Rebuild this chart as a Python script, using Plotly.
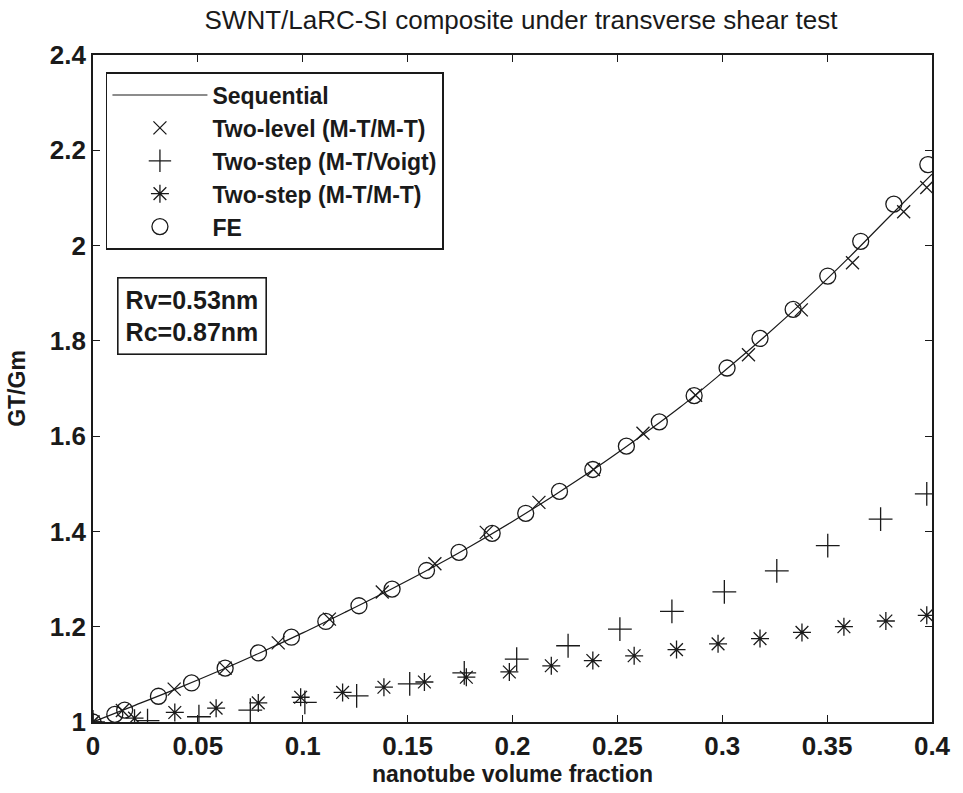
import plotly.graph_objects as go

# ---------------- data ----------------
seq_x = [0.0, 0.02, 0.04, 0.06, 0.08, 0.10, 0.12, 0.14, 0.16, 0.18, 0.20,
         0.22, 0.24, 0.26, 0.28, 0.30, 0.32, 0.34, 0.36, 0.38, 0.40]
seq_y = [1.000, 1.035, 1.070, 1.107, 1.146, 1.187, 1.230, 1.274, 1.320, 1.369, 1.421,
         1.476, 1.534, 1.596, 1.661, 1.733, 1.808, 1.888, 1.973, 2.062, 2.150]

two_level_x = [0.0, 0.014, 0.0387, 0.063, 0.0883, 0.1127, 0.1379, 0.163, 0.1875,
               0.2126, 0.2386, 0.2622, 0.2873, 0.3125, 0.3377, 0.3621, 0.3865, 0.3975]
two_level_y = [1.000, 1.024, 1.069, 1.113, 1.166, 1.216, 1.273, 1.332, 1.398,
               1.461, 1.530, 1.606, 1.686, 1.771, 1.865, 1.964, 2.071, 2.122]

voigt_x = [0.0, 0.026, 0.0505, 0.075, 0.101, 0.1257, 0.151, 0.177, 0.202,
           0.2265, 0.2512, 0.276, 0.301, 0.326, 0.3503, 0.3755, 0.3975]
voigt_y = [1.000, 1.003, 1.011, 1.025, 1.041, 1.055, 1.080, 1.103, 1.132,
           1.160, 1.195, 1.232, 1.273, 1.317, 1.370, 1.426, 1.479]

mtmt_x = [0.0, 0.0198, 0.039, 0.0587, 0.0788, 0.099, 0.119, 0.1387, 0.158, 0.178,
          0.1985, 0.2185, 0.2383, 0.258, 0.2782, 0.298, 0.318, 0.338, 0.358, 0.378, 0.3975]
mtmt_y = [1.000, 1.008, 1.020, 1.029, 1.040, 1.052, 1.062, 1.073, 1.084, 1.094,
          1.105, 1.118, 1.129, 1.139, 1.152, 1.164, 1.175, 1.188, 1.200, 1.212, 1.224]

fe_x = [0.0, 0.0104, 0.0151, 0.0312, 0.047, 0.063, 0.0789, 0.0946, 0.111, 0.1268,
        0.1426, 0.159, 0.1745, 0.1903, 0.2063, 0.2224, 0.2383, 0.2543, 0.270, 0.2866,
        0.3023, 0.318, 0.3338, 0.3503, 0.366, 0.3818, 0.398]
fe_y = [1.000, 1.016, 1.025, 1.054, 1.082, 1.113, 1.145, 1.178, 1.211, 1.244,
        1.279, 1.318, 1.356, 1.396, 1.438, 1.484, 1.530, 1.579, 1.630, 1.685,
        1.743, 1.805, 1.866, 1.936, 2.009, 2.087, 2.170]

names = ["Sequential", "Two-level (M-T/M-T)", "Two-step (M-T/Voigt)",
         "Two-step (M-T/M-T)", "FE"]
x_ticks = [0, 0.05, 0.1, 0.15, 0.2, 0.25, 0.3, 0.35, 0.4]
y_ticks = [1, 1.2, 1.4, 1.6, 1.8, 2, 2.2, 2.4]

FONT = "Liberation Sans, Arial, Helvetica, sans-serif"
BLACK = "#1a1a1a"

fig = go.Figure()
fig.add_trace(go.Scatter(x=seq_x, y=seq_y, mode="lines", name=names[0],
                         line=dict(color=BLACK, width=1.2, shape="spline")))
fig.add_trace(go.Scatter(x=two_level_x, y=two_level_y, mode="markers", name=names[1],
                         marker=dict(symbol="x-thin-open", size=13, color=BLACK,
                                     line=dict(color=BLACK, width=1.3))))
fig.add_trace(go.Scatter(x=voigt_x, y=voigt_y, mode="markers", name=names[2],
                         marker=dict(symbol="cross-thin-open", size=17, color=BLACK,
                                     line=dict(color=BLACK, width=1.3))))
fig.add_trace(go.Scatter(x=mtmt_x, y=mtmt_y, mode="markers", name=names[3],
                         marker=dict(symbol="asterisk-open", size=15, color=BLACK,
                                     line=dict(color=BLACK, width=1.3))))
fig.add_trace(go.Scatter(x=fe_x, y=fe_y, mode="markers", name=names[4],
                         marker=dict(symbol="circle-open", size=16, color=BLACK,
                                     line=dict(color=BLACK, width=1.3))))

axis_common = dict(showline=True, linecolor=BLACK, linewidth=1.6, mirror="allticks",
                   ticks="inside", ticklen=7, tickwidth=1.2, tickcolor=BLACK,
                   showgrid=False, zeroline=False,
                   tickfont=dict(family=FONT, size=26, color=BLACK, weight="bold"))

fig.update_layout(
    width=963, height=793,
    margin=dict(l=93, r=23, t=55, b=70),
    paper_bgcolor="white", plot_bgcolor="white",
    title=dict(text="SWNT/LaRC-SI composite under transverse shear test",
               x=0.541, xanchor="center", y=0.975, yanchor="middle",
               font=dict(family=FONT, size=26, color=BLACK)),
    xaxis=dict(range=[0, 0.4], tickvals=x_ticks, ticktext=[str(v) for v in x_ticks],
               title=dict(text="nanotube volume fraction", standoff=4,
                          font=dict(family=FONT, size=23, color=BLACK, weight="bold")),
               **axis_common),
    yaxis=dict(range=[1, 2.4], tickvals=y_ticks, ticktext=[str(v) for v in y_ticks],
               title=dict(text="GT/Gm", standoff=18,
                          font=dict(family=FONT, size=23, color=BLACK, weight="bold")),
               **axis_common),
    legend=dict(x=0.0153, y=0.9746, xanchor="left", yanchor="top",
                bgcolor="white", bordercolor=BLACK, borderwidth=1.6,
                font=dict(family=FONT, size=23, color=BLACK, weight="bold"),
                itemwidth=95, tracegroupgap=0),
    showlegend=True,
)

fig.add_annotation(xref="paper", yref="paper", x=0.0283, y=0.6677,
                   xanchor="left", yanchor="top", align="left", showarrow=False,
                   text="Rv=0.53nm<br>Rc=0.87nm",
                   font=dict(family=FONT, size=25, color=BLACK, weight="bold"),
                   bordercolor=BLACK, borderwidth=1.6, borderpad=7, bgcolor="white")

fig.write_html("out.html")
